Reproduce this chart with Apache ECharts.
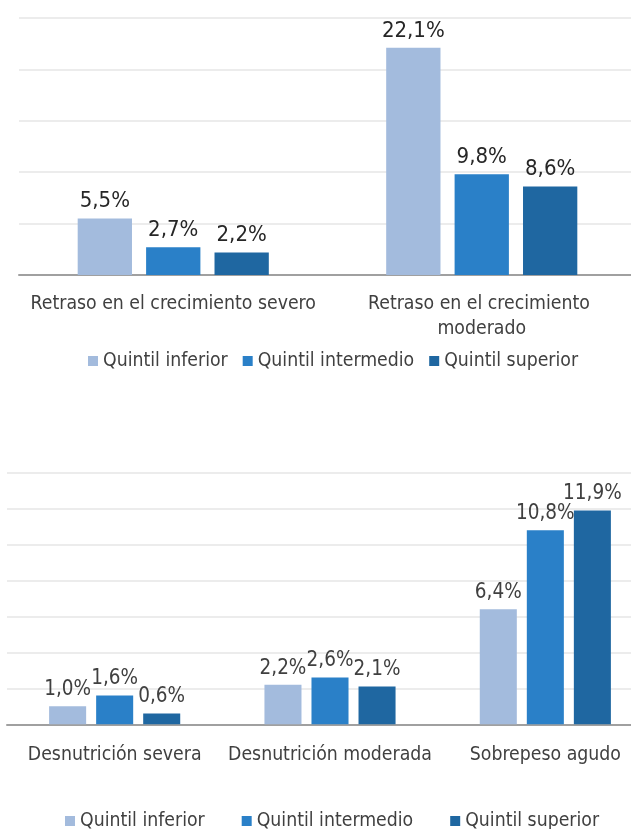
<!DOCTYPE html>
<html>
<head>
<meta charset="utf-8">
<script src="https://cdn.jsdelivr.net/npm/echarts@6/dist/echarts.min.js"></script>
<style>
  html, body { margin: 0; padding: 0; background: #ffffff; }
  #chart { width: 631px; height: 829px; }
</style>
</head>
<body>
<div id="chart"></div>
<script>
// Quintile names shared by both panels
const quintiles = ['Quintil inferior', 'Quintil intermedio', 'Quintil superior'];
const quintileColors = ['#a3bbdd', '#2a80c8', '#1f67a1'];

// Upper panel: stunting (retraso en el crecimiento)
const stuntingCategories = ['Retraso en el crecimiento severo', 'Retraso en el crecimiento moderado'];
const stuntingInferior = [5.5, 22.1];
const stuntingIntermedio = [2.7, 9.8];
const stuntingSuperior = [2.2, 8.6];

// Lower panel: wasting and overweight
const wastingCategories = ['Desnutrición severa', 'Desnutrición moderada', 'Sobrepeso agudo'];
const wastingInferior = [1.0, 2.2, 6.4];
const wastingIntermedio = [1.6, 2.6, 10.8];
const wastingSuperior = [0.6, 2.1, 11.9];

const FONT = '"DejaVu Sans Condensed", "DejaVu Sans", sans-serif';
const pct = v => v.toFixed(1).replace('.', ',') + '%';

function barSeries(name, data, color, gridIdx, labelColor, labelSize, barWidth, barGap) {
  return {
    name: name,
    type: 'bar',
    xAxisIndex: gridIdx,
    yAxisIndex: gridIdx,
    data: data,
    barWidth: barWidth,
    barGap: barGap,
    itemStyle: { color: color },
    label: {
      show: true,
      position: 'top',
      distance: 6,
      fontFamily: FONT,
      fontSize: labelSize,
      color: labelColor,
      formatter: p => pct(p.value)
    }
  };
}

const upperSets = [stuntingInferior, stuntingIntermedio, stuntingSuperior];
const lowerSets = [wastingInferior, wastingIntermedio, wastingSuperior];

const series = [];
quintiles.forEach((q, i) => {
  series.push(barSeries(q, upperSets[i], quintileColors[i], 0, '#262626', 22, '17.6%', '26%'));
});
quintiles.forEach((q, i) => {
  series.push(barSeries(q, lowerSets[i], quintileColors[i], 1, '#404040', 20.5, '17.2%', '27%'));
});

function categoryAxis(gridIdx, cats, margin) {
  return {
    type: 'category',
    gridIndex: gridIdx,
    data: cats,
    axisTick: { show: false },
    axisLine: { show: true, lineStyle: { color: '#a0a0a0', width: 2 } },
    axisLabel: {
      interval: 0,
      margin: margin,
      fontFamily: FONT,
      fontSize: 19.3,
      color: '#404040',
      lineHeight: 25,
      width: 310,
      overflow: 'break'
    }
  };
}

function valueAxis(gridIdx, max, interval) {
  return {
    type: 'value',
    gridIndex: gridIdx,
    min: 0,
    max: max,
    interval: interval,
    axisLabel: { show: false },
    axisLine: { show: false },
    axisTick: { show: false },
    splitLine: { show: true, lineStyle: { color: '#e6e6e6', width: 1.5 } }
  };
}

function legend(top, left, gap) {
  return {
    data: quintiles,
    top: top,
    left: left,
    itemWidth: 10,
    itemHeight: 10,
    itemGap: gap,
    icon: 'rect',
    textStyle: { fontFamily: FONT, fontSize: 19.3, color: '#404040', lineHeight: 20 }
  };
}

const chart = echarts.init(document.getElementById('chart'), null, { renderer: 'canvas' });
chart.setOption({
  backgroundColor: '#ffffff',
  animation: false,
  legend: [legend(346, 83, 15), legend(806, 60, 37)],
  grid: [
    { left: 19, top: 18, width: 617, height: 257, outerBoundsMode: 'none', containLabel: false },
    { left: 7, top: 472.7, width: 646, height: 251.6, outerBoundsMode: 'none', containLabel: false }
  ],
  xAxis: [categoryAxis(0, stuntingCategories, 16), categoryAxis(1, wastingCategories, 18)],
  yAxis: [valueAxis(0, 25, 5), valueAxis(1, 14, 2)],
  series: series
});
</script>
</body>
</html>
